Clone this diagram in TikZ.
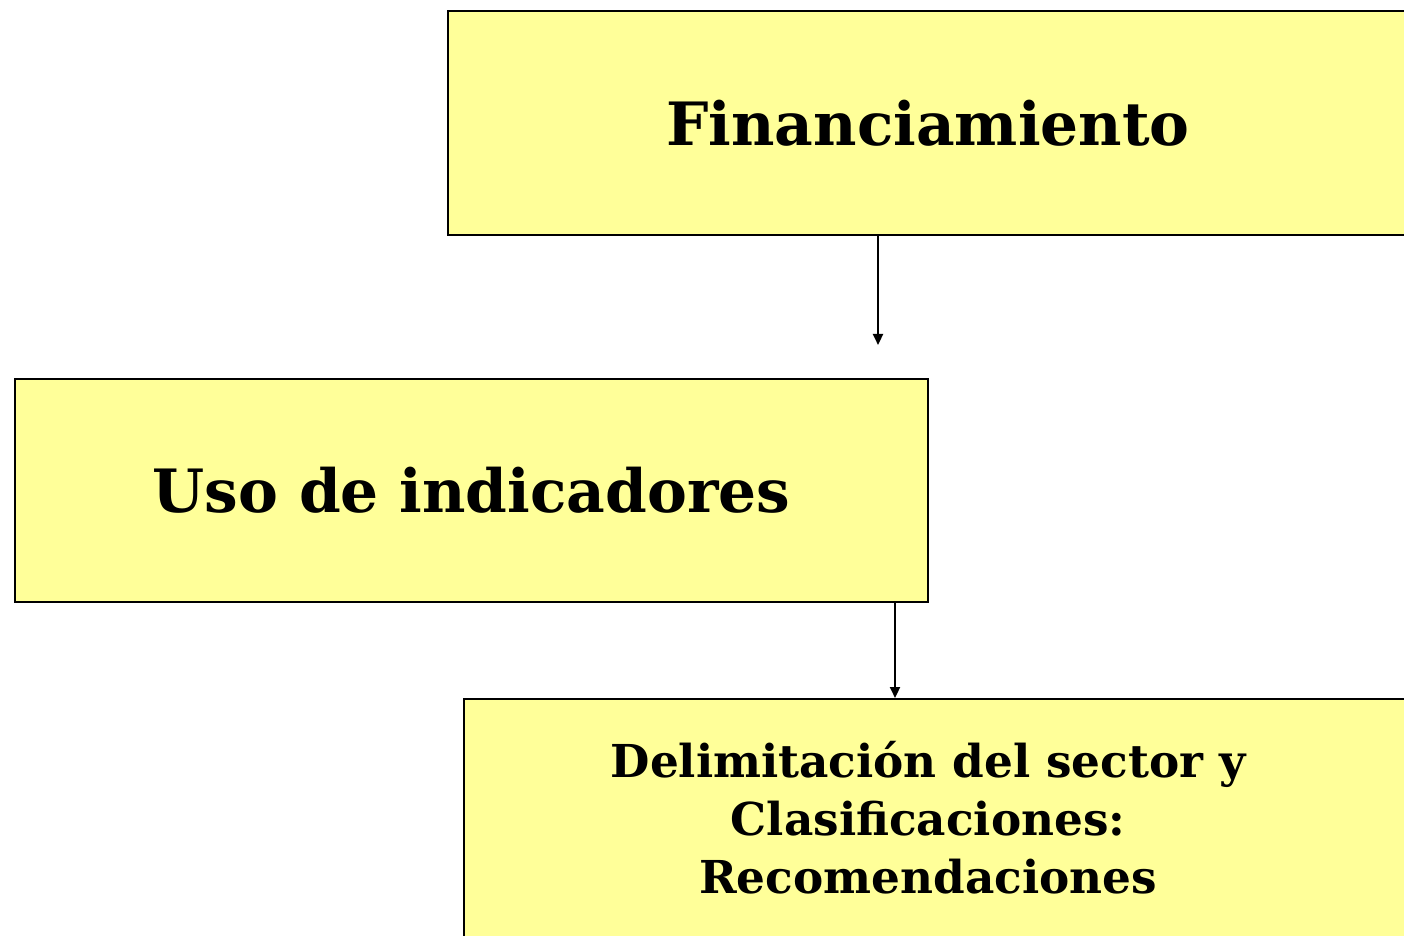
\documentclass[tikz,border=0pt]{standalone}
\usepackage{fontspec}
\setmainfont{DejaVu Serif}
\usetikzlibrary{arrows.meta}
\definecolor{boxyellow}{HTML}{FFFF99}
\tikzset{
  caja/.style={draw=black, line width=0.6pt, fill=boxyellow, anchor=north west, font=\bfseries},
  flecha/.style={-{Triangle[length=1.1mm,width=1mm]}, line width=0.6pt}
}
\begin{document}
\begin{tikzpicture}
        \useasboundingbox (0,0) rectangle (14.04,9.35);
        % Boxes
        \node[caja, minimum width=9.6cm, minimum height=2.24cm, font=\bfseries\fontsize{17}{20}\selectfont] (fin) at (4.47,9.25) {Financiamiento};
        \node[caja, minimum width=9.13cm, minimum height=2.23cm, font=\bfseries\fontsize{17}{20}\selectfont] (uso) at (0.14,5.57) {Uso de indicadores};
        \node[caja, inner xsep=0pt, minimum width=9.8cm, minimum height=2.38cm, font=\bfseries\fontsize{12.9}{16.5}\selectfont] (delim) at (4.63,2.37)
          {\parbox{9.28cm}{\centering Delimitación del sector y\\Clasificaciones:\\ Recomendaciones}\hspace*{0.52cm}};
        % Arrows
        \coordinate (tip1) at (8.78,5.90);
        \coordinate (col2) at (8.95,0);
        \draw[flecha] (fin.south -| tip1) -- (tip1);
        \draw[flecha] (uso.south -| col2) -- (delim.north -| col2);
\end{tikzpicture}
\end{document}
